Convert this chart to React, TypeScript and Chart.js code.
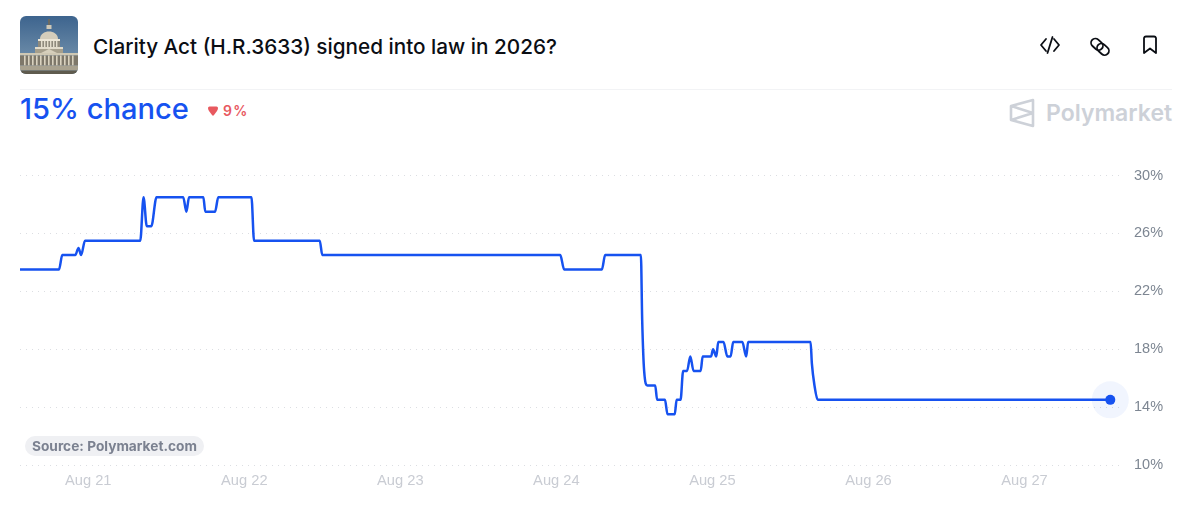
import { useEffect, useRef } from "react";
import Chart from "chart.js/auto";

// hours since Aug 21 00:00
const hours = [
  -10.5, -4.5, -4.0, -2.0, -1.5, -1.1, -0.5, 8.0, 8.5, 9.0, 9.7, 10.5, 14.6, 15.1, 15.5, 17.7, 18.0, 19.5, 20.0,
  25.1, 25.5, 35.6, 36.0, 72.6, 73.2, 79.0, 79.5, 85.0, 85.2, 85.5, 86.0, 87.2, 87.5, 88.7, 89.1, 90.2, 90.5, 91.1,
  91.5, 92.1, 92.6, 93.1, 94.2, 94.5, 95.8, 96.1, 96.6, 96.9, 97.7, 98.3, 98.8, 99.2, 100.6, 101.2, 101.5, 111.1,
  111.3, 111.7, 112.2, 157.2,
];
const chance = [
  23.5, 23.5, 24.5, 24.5, 25, 24.5, 25.5, 25.5, 28.5, 26.5, 26.5, 28.5, 28.5, 27.5, 28.5, 28.5, 27.5, 27.5, 28.5,
  28.5, 25.5, 25.5, 24.5, 24.5, 23.5, 23.5, 24.5, 24.5, 20, 16.5, 15.5, 15.5, 14.5, 14.5, 13.5, 13.5, 14.5, 14.5,
  16.5, 16.5, 17.5, 16.5, 16.5, 17.5, 17.5, 18, 17.5, 18.5, 18.5, 17.5, 17.5, 18.5, 18.5, 17.5, 18.5, 18.5,
  17, 15.5, 14.5, 14.5,
];
const dayHours = [0, 24, 48, 72, 96, 120, 144];
const dayLabels = ["Aug 21", "Aug 22", "Aug 23", "Aug 24", "Aug 25", "Aug 26", "Aug 27"];
const percentTicks = [10, 14, 18, 22, 26, 30];

const BLUE = "#1652f0";
const UI_FONT = "Inter, sans-serif";

function CapitolThumb() {
  const columns = [4, 8, 12, 16, 20, 24, 28, 32, 36, 40, 44, 48, 52];
  const drumColumns = [21, 24, 27, 30, 33, 36];
  return (
    <svg width="58" height="58" viewBox="0 0 58 58" style={{ position: "absolute", left: 20, top: 16, borderRadius: 6 }}>
      <defs>
        <linearGradient id="sky" x1="0" y1="0" x2="0" y2="1">
          <stop offset="0" stopColor="#3d648e" />
          <stop offset="0.75" stopColor="#6f8eaa" />
        </linearGradient>
      </defs>
      <rect width="58" height="58" fill="url(#sky)" />
      <rect x="28" y="3" width="2" height="6" fill="#6b6a62" />
      <rect x="26.5" y="9" width="5" height="4" fill="#cfc8b6" />
      <path d="M20 23 C20 13 38 13 38 23 Z" fill="#d4cdbb" />
      <rect x="18" y="23" width="22" height="2" fill="#ece6d6" />
      <rect x="18" y="25" width="22" height="6" fill="#8f8a7c" />
      {drumColumns.map((x) => (
        <rect key={x} x={x} y="25" width="1.4" height="6" fill="#e4decd" />
      ))}
      <rect x="15" y="31" width="28" height="2" fill="#e2dccb" />
      <rect x="15" y="33" width="28" height="4" fill="#a69f8c" />
      <rect x="0" y="37" width="58" height="2.5" fill="#cfc8b4" />
      <rect x="0" y="39.5" width="58" height="10" fill="#7e786a" />
      {columns.map((x) => (
        <rect key={x} x={x} y="39.5" width="1.6" height="10" fill="#d9d2bf" />
      ))}
      <path d="M21 37 L29 33 L37 37 Z" fill="#d6cfbc" />
      <rect x="0" y="49.5" width="58" height="5" fill="#a9a28f" />
      <rect x="0" y="54.5" width="58" height="3.5" fill="#5f5b4e" />
    </svg>
  );
}

function HeaderIcons() {
  const stroke = { fill: "none", stroke: "#0b0e14", strokeWidth: 1.8, strokeLinecap: "round", strokeLinejoin: "round" } as const;
  return (
    <svg width="1188" height="90" style={{ position: "absolute", left: 0, top: 0 }}>
      <g {...stroke}>
        <path d="M1046 39 L1041 45 L1046 51" />
        <path d="M1054 39 L1059 45 L1054 51" />
        <path d="M1052.5 37 L1047.5 53" />
        <rect x="1090.5" y="40" width="13" height="8.6" rx="4.3" transform="rotate(42 1097 44.3)" />
        <rect x="1096.5" y="45" width="13" height="8.6" rx="4.3" transform="rotate(42 1103 49.3)" />
        <path d="M1144 38 A2 2 0 0 1 1146 36.5 L1154 36.5 A2 2 0 0 1 1156 38 L1156 53 L1150 48.5 L1144 53 Z" />
      </g>
    </svg>
  );
}

export default function App() {
  const canvasRef = useRef<HTMLCanvasElement | null>(null);

  useEffect(() => {
    if (canvasRef.current == null) return;
    const last = hours.length - 1;

    const chartInstance = new Chart(canvasRef.current, {
      type: "line",
      data: {
        datasets: [
          {
            label: "Yes",
            data: hours.map((h, i) => ({ x: h, y: chance[i] })),
            borderColor: BLUE,
            borderWidth: 2.5,
            cubicInterpolationMode: "monotone",
            pointRadius: 0,
            order: 1,
          },
          {
            label: "Latest",
            data: [{ x: hours[last], y: chance[last] }],
            pointRadius: 5,
            pointBackgroundColor: BLUE,
            pointBorderWidth: 0,
            showLine: false,
            clip: false,
            order: 0,
          },
          {
            label: "Halo",
            data: [{ x: hours[last], y: chance[last] }],
            pointRadius: 18.5,
            pointBackgroundColor: "rgba(22, 82, 240, 0.06)",
            pointBorderWidth: 0,
            showLine: false,
            clip: false,
            order: 2,
          },
        ],
      },
      options: {
        responsive: false,
        animation: false,
        layout: { padding: { left: 20, top: 175.5, right: 0, bottom: 0 } },
        plugins: { legend: { display: false }, tooltip: { enabled: false } },
        scales: {
          x: {
            type: "linear",
            min: -10.5,
            max: 159,
            afterBuildTicks: (scale: any) => {
              scale.ticks = dayHours.map((value) => ({ value }));
            },
            afterFit: (scale: any) => {
              scale.height = 62;
            },
            grid: { display: false },
            border: { display: false },
            ticks: {
              autoSkip: false,
              maxRotation: 0,
              padding: -1,
              color: "#c9ccd3",
              font: { family: "'Liberation Sans', sans-serif", size: 14.7 },
              callback: (value: any) => dayLabels[dayHours.indexOf(value)],
            },
          },
          y: {
            position: "right",
            min: 10,
            max: 30,
            afterBuildTicks: (scale: any) => {
              scale.ticks = percentTicks.map((value) => ({ value }));
            },
            afterFit: (scale: any) => {
              scale.width = 66;
            },
            grid: { color: "#dcdee2", drawTicks: false },
            border: { display: false, dash: [1, 5] },
            ticks: {
              padding: 12,
              color: "#7d8692",
              font: { family: "'Liberation Sans', sans-serif", size: 14.5 },
              callback: (value: any) => `${value}%`,
            },
          },
        },
      },
    });

    return () => {
      chartInstance.destroy();
    };
  }, []);

  return (
    <div style={{ position: "absolute", left: 0, top: 0, width: 1188, height: 527, background: "#fff", overflow: "hidden", fontFamily: UI_FONT }}>
      <CapitolThumb />
      <div style={{ position: "absolute", left: 93, top: 32, fontSize: 20.72, lineHeight: "30px", fontWeight: 500, color: "#0b0e14", whiteSpace: "nowrap" }}>
        Clarity Act (H.R.3633) signed into law in 2026?
      </div>
      <HeaderIcons />
      <div style={{ position: "absolute", left: 20, top: 89, width: 1152, height: 1, background: "#f2f3f5" }} />
      <div style={{ position: "absolute", left: 20, top: 90, fontSize: 29.1, lineHeight: "38px", fontWeight: 500, color: BLUE, whiteSpace: "nowrap" }}>
        15% chance
      </div>
      <svg width="12" height="11" style={{ position: "absolute", left: 207, top: 106 }}>
        <path d="M1 2 Q1 0.5 2.5 0.5 L9.5 0.5 Q11 0.5 11 2 Q11 3.5 10 5 L7 9 Q6 10.5 5 9 L2 5 Q1 3.5 1 2 Z" fill="#e8595f" />
      </svg>
      <div style={{ position: "absolute", left: 223, top: 101, fontSize: 14, lineHeight: "20px", fontWeight: 600, letterSpacing: 1.2, color: "#e8595f" }}>
        9%
      </div>
      <svg width="26" height="30" viewBox="0 0 26 30" style={{ position: "absolute", left: 1009, top: 98 }}>
        <path d="M24 2 L2 8 L2 22 L24 28 Z M24 2 L24 28 M2 8 L24 15 L2 22" fill="none" stroke="#cdd1d8" strokeWidth="2.6" strokeLinejoin="round" />
      </svg>
      <div style={{ position: "absolute", left: 1046, top: 98, fontSize: 23, lineHeight: "30px", fontWeight: 600, color: "#cdd1d8", whiteSpace: "nowrap" }}>
        Polymarket
      </div>
      <canvas ref={canvasRef} width={1188} height={527} style={{ position: "absolute", left: 0, top: 0, display: "block" }} />
      <div style={{ position: "absolute", left: 25, top: 436, width: 179, height: 20, borderRadius: 10, background: "#eff0f3", boxSizing: "border-box", paddingLeft: 7, fontSize: 13.7, lineHeight: "20px", fontWeight: 700, color: "#7b8190", whiteSpace: "nowrap" }}>
        Source: Polymarket.com
      </div>
    </div>
  );
}
